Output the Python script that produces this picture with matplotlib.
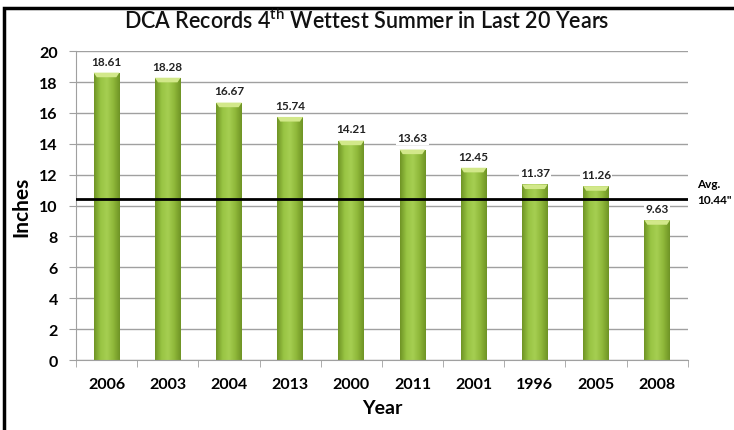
import matplotlib.pyplot as plt
import numpy as np
from matplotlib.patches import Rectangle, Polygon
from matplotlib.colors import LinearSegmentedColormap

plt.rcParams['font.family'] = ['Lato', 'DejaVu Sans']
plt.rcParams['mathtext.fontset'] = 'custom'
plt.rcParams['mathtext.rm'] = 'Lato'

years = ['2006', '2003', '2004', '2013', '2000', '2011', '2001', '1996', '2005', '2008']
# bar heights as drawn in the picture (last bar is drawn lower than its label)
inches = [18.61, 18.28, 16.67, 15.74, 14.21, 13.63, 12.45, 11.37, 11.26, 9.06]
labels = ['18.61', '18.28', '16.67', '15.74', '14.21', '13.63', '12.45', '11.37', '11.26', '9.63']
avg = 10.44

fig = plt.figure(figsize=(7.34, 4.31), dpi=100)
ax = fig.add_axes([0.1035, 0.1624, 0.8335, 0.7166])

x = np.arange(len(years))
w = 0.42
bars = ax.bar(x, inches, width=w, color='#8db840', edgecolor='none', zorder=2)

# horizontal shading on each bar: darker edges, light middle
cmap = LinearSegmentedColormap.from_list('g', ['#6f9425', '#98c443', '#a6cf52', '#8fb83a', '#6f9425'])
grad = np.linspace(0, 1, 64).reshape(1, -1)
for b in bars:
    bx, bw, bh = b.get_x(), b.get_width(), b.get_height()
    im = ax.imshow(grad, cmap=cmap, aspect='auto', extent=[bx, bx + bw, 0, bh], zorder=2)
    im.set_clip_path(b)
    # light bevel on top
    d = bw * 0.12
    ax.add_patch(Polygon([(bx, bh), (bx + bw, bh), (bx + bw - d, bh - 0.3), (bx + d, bh - 0.3)],
                         closed=True, color='#d2e88a', zorder=3, lw=0))

for xi, v, s in zip(x, inches, labels):
    ax.text(xi, v + 0.75, s, ha='center', va='center', fontsize=8.5, fontweight='bold',
            color='#222222', zorder=5,
            bbox=dict(boxstyle='square,pad=0.1', fc='white', ec='none'))

ax.axhline(avg, color='black', lw=2, zorder=4)
ax.set_xlim(-0.5, len(years) - 0.5)
ax.set_ylim(0, 20)
ax.set_yticks(range(0, 21, 2))
ax.yaxis.grid(True, color='#a0a0a0', lw=1, zorder=0)
ax.set_axisbelow(True)

ax.set_xticks(x)
ax.set_xticklabels(years, fontsize=11.5, fontweight='bold')
ax.set_xticks(np.arange(-0.5, len(years), 1), minor=True)
ax.tick_params(axis='x', which='major', length=0, pad=12)
ax.tick_params(axis='x', which='minor', length=5, color='#a0a0a0')
ax.tick_params(axis='y', length=5, color='#a0a0a0', labelsize=11.5, pad=8)
for t in ax.get_yticklabels():
    t.set_fontweight('bold')

for s in ['top', 'right']:
    ax.spines[s].set_visible(False)
ax.spines['left'].set_color('#a0a0a0')
ax.spines['bottom'].set_color('#a0a0a0')

ax.set_xlabel('Year', fontsize=14, fontweight='bold', labelpad=6)
ax.set_ylabel('Inches', fontsize=15, fontweight='bold', labelpad=6)

ax.text(1.015, 0.545, 'Avg.\n10.44"', transform=ax.transAxes, fontsize=8.5,
        fontweight='bold', va='center', ha='left', linespacing=1.5, clip_on=False)

fig.text(0.5, 0.952, 'DCA Records 4$^{\\mathregular{th}}$ Wettest Summer in Last 20 Years',
         ha='center', va='center', fontsize=15.5, fontweight='semibold', color='#111111')

fig.patches.append(Rectangle((0.005, -0.02), 1.1, 1.0, transform=fig.transFigure,
                             fill=False, edgecolor='black', lw=2.5))

fig.savefig('out.png', dpi=100)
